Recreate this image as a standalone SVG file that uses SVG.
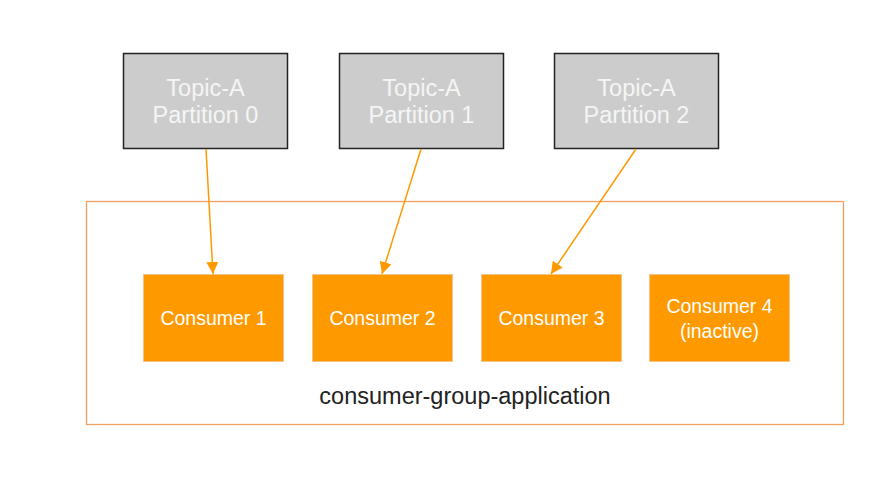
<svg xmlns="http://www.w3.org/2000/svg" width="892" height="487" viewBox="0 0 892 487">
<defs>
<style>
.topic rect{fill:#cccccc;stroke:#222;stroke-width:1.5}
.topic text{fill:#f5f5f5;font-family:"Liberation Sans",Arial,sans-serif;font-size:23.5px;text-anchor:middle}
.cons rect{fill:#ff9900;stroke:#f5c28a;stroke-width:1}
.cons text{fill:#ffffff;font-family:"Liberation Sans",Arial,sans-serif;font-size:19.5px;text-anchor:middle}
.edge{stroke:#ff9900;stroke-width:1.5;fill:none;marker-end:url(#ah)}
</style>
<marker id="ah" markerWidth="13" markerHeight="12" refX="12" refY="6" orient="auto" markerUnits="userSpaceOnUse">
<path d="M0,0 L12,6 L0,12 Z" fill="#ff9900"/>
</marker>
</defs>
<rect width="892" height="487" fill="#ffffff"/>
<g id="group">
<rect x="86.5" y="201.5" width="757" height="223" fill="none" stroke="#f0a060" stroke-width="1.3"/>
<text x="465" y="404" font-family="'Liberation Sans',Arial,sans-serif" font-size="23.5" fill="#222" text-anchor="middle">consumer-group-application</text>
</g>
<g id="p0" class="topic"><rect x="123.5" y="53.5" width="164" height="95"/><text x="205.5" y="96">Topic-A</text><text x="205.5" y="123">Partition 0</text></g>
<g id="p1" class="topic"><rect x="339.5" y="53.5" width="164" height="95"/><text x="421.5" y="96">Topic-A</text><text x="421.5" y="123">Partition 1</text></g>
<g id="p2" class="topic"><rect x="554.5" y="53.5" width="164" height="95"/><text x="636.5" y="96">Topic-A</text><text x="636.5" y="123">Partition 2</text></g>
<g id="c1" class="cons"><rect x="143.5" y="274.5" width="140" height="87"/><text x="213.5" y="325">Consumer 1</text></g>
<g id="c2" class="cons"><rect x="312.5" y="274.5" width="140" height="87"/><text x="382.5" y="325">Consumer 2</text></g>
<g id="c3" class="cons"><rect x="481.5" y="274.5" width="140" height="87"/><text x="551.5" y="325">Consumer 3</text></g>
<g id="c4" class="cons"><rect x="649.5" y="274.5" width="140" height="87"/><text x="719.5" y="313">Consumer 4</text><text x="719.5" y="338">(inactive)</text></g>
<g id="connectors">
<line class="edge" x1="206" y1="149" x2="213" y2="274"/>
<line class="edge" x1="421" y1="149" x2="382" y2="274"/>
<line class="edge" x1="636" y1="149" x2="551" y2="274"/>
</g>
</svg>
